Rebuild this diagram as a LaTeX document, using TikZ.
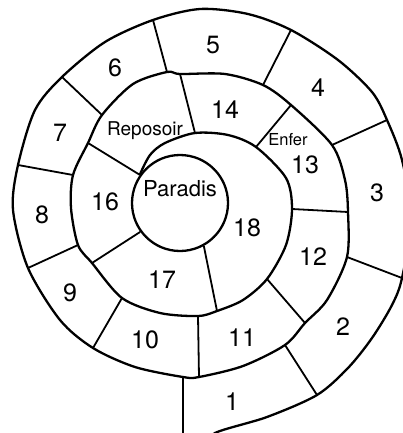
\documentclass[tikz,border=0pt]{standalone}
\usepackage{fontspec}
\setmainfont{TeX Gyre Heros}
\begin{document}
\begin{tikzpicture}[
    x=1pt, y=-1pt,
    spiral/.style={draw, line width=2.3pt, line join=round},
    wall/.style={draw, line width=1.8pt},
    paradise/.style={circle, draw, line width=2.3pt, inner sep=0pt, minimum size=96pt},
    num/.style={font=\fontsize{25}{25}\selectfont},
    place/.style={font=\fontsize{19}{19}\selectfont}
]
\useasboundingbox (0,0) rectangle (403,433);
\clip (0,0) rectangle (403,433);

% Paradis
\node[paradise] (paradis) at (180,203) {};

% Wall ends on the outer turn
\coordinate (b1) at (183,440);
\coordinate (o12) at (317,395);
\coordinate (o23) at (402,278);
\coordinate (o34) at (387,120);
\coordinate (o45) at (291,30);
\coordinate (o56) at (153,20);
\coordinate (o67) at (62,77);
\coordinate (o78) at (18,165);
\coordinate (o89) at (28,268);
\coordinate (o910) at (93,348);

% Wall ends on the middle turn
\coordinate (s1) at (183,377);
\coordinate (o1011) at (199,377);
\coordinate (i12) at (285,345);
\coordinate (o1112) at (305,323);
\coordinate (i23) at (347,257);
\coordinate (o1213) at (348,212);
\coordinate (i34) at (332,145);
\coordinate (o1314) at (291,105);
\coordinate (i45) at (263,85);
\coordinate (o1415) at (180,74);
\coordinate (i56) at (167,72);
\coordinate (i67) at (102,115);
\coordinate (o1516) at (88,143);
\coordinate (i78) at (73,175);
\coordinate (i89) at (78,245);
\coordinate (o1617) at (92,263);
\coordinate (i910) at (122,298);

% Wall ends on the inner turn
\coordinate (i1011) at (198,316);
\coordinate (o1718) at (217,311);
\coordinate (i1112) at (267,279);
\coordinate (i1213) at (292,209);
\coordinate (i1314) at (256,147);
\coordinate (i1415) at (195,133);
\coordinate (i1516) at (paradis.145);
\coordinate (i1617) at (paradis.216);
\coordinate (i1718) at (paradis.299);

% Spiral
\draw[spiral] plot[smooth] coordinates {
    (205,448) (215,433) (267,417) (o12) (348,368) (372,338) (392,305) (o23)
    (411,218) (402,160) (o34) (372,92) (338,60) (o45) (248,14) (200,9)
    (o56) (105,42) (o67) (35,110) (o78) (13,210) (o89) (60,320) (o910)
    (135,367) (s1) (o1011) (243,366) (i12) (o1112) (327,300) (i23) (o1213)
    (345,180) (i34) (o1314) (i45) (225,74) (o1415) (i56) (133,84) (i67)
    (o1516) (i78) (71,208) (i89) (o1617) (i910) (160,313) (i1011) (o1718)
    (243,300) (i1112) (286,245) (i1213) (286,178) (i1314) (228,135) (i1415)
    (165,143) (150,155) (i1516)};

% Walls of the outer turn
\draw[wall] (s1) -- (b1);
\draw[wall] (i12) -- (o12);
\draw[wall] (i23) -- (o23);
\draw[wall] (i34) -- (o34);
\draw[wall] (i45) -- (o45);
\draw[wall] (i56) -- (o56);
\draw[wall] (i67) -- (o67);
\draw[wall] (i78) -- (o78);
\draw[wall] (i89) -- (o89);
\draw[wall] (i910) -- (o910);

% Walls of the inner turns
\draw[wall] (i1011) -- (o1011);
\draw[wall] (i1112) -- (o1112);
\draw[wall] (i1213) -- (o1213);
\draw[wall] (i1314) -- (o1314);
\draw[wall] (i1415) -- (o1415);
\draw[wall] (i1516) -- (o1516);
\draw[wall] (i1617) -- (o1617);
\draw[wall] (i1718) -- (o1718);

% Numbers
\node[num] (n1) at (232,402) {1};
\node[num] (n2) at (343,327) {2};
\node[num] (n3) at (377,193) {3};
\node[num] (n4) at (318,88) {4};
\node[num] (n5) at (213,45) {5};
\node[num] (n6) at (115,68) {6};
\node[num] (n7) at (60,133) {7};
\node[num] (n8) at (42,215) {8};
\node[num] (n9) at (70,293) {9};
\node[num] (n10) at (145,340) {10};
\node[num] (n11) at (242,338) {11};
\node[num] (n12) at (313,257) {12};
\node[num] (n13) at (305,165) {13};
\node[num] (n14) at (225,110) {14};
\node[num] (n16) at (105,202) {16};
\node[num] (n17) at (162,280) {17};
\node[num] (n18) at (247,228) {18};

% Places
\node[place] (reposoir) at (145,131) {Reposoir};
\node[place, font=\fontsize{16.5}{16.5}\selectfont] (enfer) at (288,140) {Enfer};
\node[place, font=\fontsize{22}{22}\selectfont] (lparadis) at (180,189) {Paradis};

\end{tikzpicture}
\end{document}
